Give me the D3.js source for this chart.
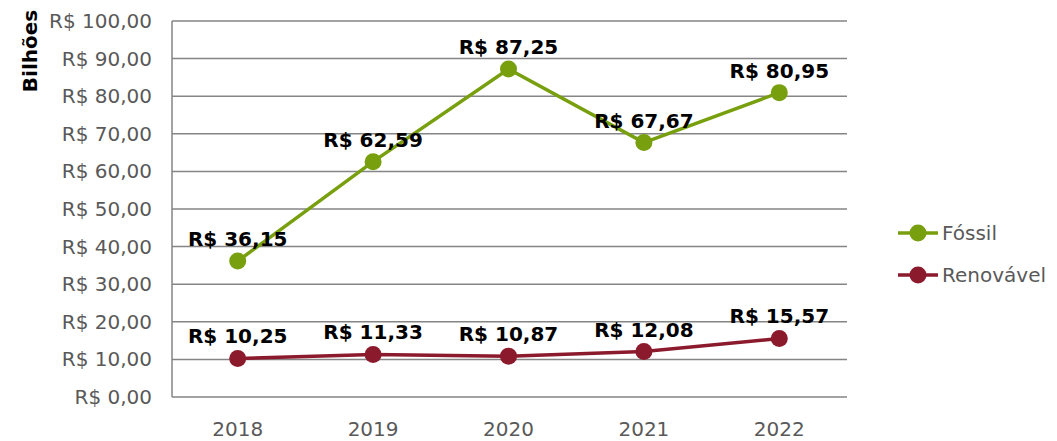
<!DOCTYPE html>
<html>
<head>
<meta charset="utf-8">
<script src="https://cdn.jsdelivr.net/npm/d3@7"></script>
<style>
  body { margin: 0; background: #fff; }
  svg text { font-family: "DejaVu Sans", sans-serif; }
</style>
</head>
<body>
<div id="chart"></div>
<script>
const years = ["2018", "2019", "2020", "2021", "2022"];
const fossil = [36.15, 62.59, 87.25, 67.67, 80.95];
const renovavel = [10.25, 11.33, 10.87, 12.08, 15.57];
const yTicks = [0, 10, 20, 30, 40, 50, 60, 70, 80, 90, 100];
const seriesNames = ["Fóssil", "Renovável"];
const colors = ["#789F0E", "#8B1A2C"];

const W = 1057, H = 441;
const plot = { left: 170, right: 847, top: 21, bottom: 397 };

const svg = d3.select("#chart").append("svg")
  .attr("width", W).attr("height", H);

const x = d3.scaleBand().domain(years).range([plot.left, plot.right]);
const y = d3.scaleLinear().domain([0, 100]).range([plot.bottom, plot.top]);

const fmt = v => "R$ " + v.toFixed(2).replace(".", ",");

// gridlines
svg.append("g").selectAll("line")
  .data(yTicks)
  .join("line")
  .attr("x1", plot.left + 2).attr("x2", plot.right)
  .attr("y1", d => y(d)).attr("y2", d => y(d))
  .attr("stroke", "#858585")
  .attr("stroke-width", 1.5);

// left axis line
svg.append("line")
  .attr("x1", plot.left + 2).attr("x2", plot.left + 2)
  .attr("y1", y(100)).attr("y2", y(0))
  .attr("stroke", "#858585").attr("stroke-width", 1.5);

// y tick labels
svg.append("g").selectAll("text")
  .data(yTicks)
  .join("text")
  .attr("x", 152)
  .attr("y", d => y(d))
  .attr("dy", "0.35em")
  .attr("text-anchor", "end")
  .attr("font-size", "20px")
  .attr("fill", "#595959")
  .text(d => fmt(d));

// x labels
svg.append("g").selectAll("text")
  .data(years)
  .join("text")
  .attr("x", d => x(d) + x.bandwidth() / 2)
  .attr("y", 429)
  .attr("dy", "0.35em")
  .attr("text-anchor", "middle")
  .attr("font-size", "20px")
  .attr("fill", "#595959")
  .text(d => d);

// y axis title
svg.append("text")
  .attr("transform", "translate(30,51) rotate(-90)")
  .attr("text-anchor", "middle")
  .attr("dy", "0.35em")
  .attr("font-size", "20px")
  .attr("font-weight", "bold")
  .attr("fill", "#000")
  .text("Bilhões");

const line = d3.line()
  .x((d, i) => x(years[i]) + x.bandwidth() / 2)
  .y(d => y(d));

[fossil, renovavel].forEach((vals, s) => {
  const g = svg.append("g");
  g.append("path")
    .datum(vals)
    .attr("d", line)
    .attr("fill", "none")
    .attr("stroke", colors[s])
    .attr("stroke-width", 3.5);
  g.selectAll("circle")
    .data(vals)
    .join("circle")
    .attr("cx", (d, i) => x(years[i]) + x.bandwidth() / 2)
    .attr("cy", d => y(d))
    .attr("r", 8.5)
    .attr("fill", colors[s]);
  g.selectAll("text")
    .data(vals)
    .join("text")
    .attr("x", (d, i) => x(years[i]) + x.bandwidth() / 2)
    .attr("y", d => y(d) - 22)
    .attr("dy", "0.35em")
    .attr("text-anchor", "middle")
    .attr("font-size", "20px")
    .attr("font-weight", "bold")
    .attr("fill", "#000")
    .text(d => fmt(d));
});

// legend
const legend = svg.append("g");
seriesNames.forEach((name, i) => {
  const ly = 233 + i * 42;
  legend.append("line")
    .attr("x1", 898).attr("x2", 938)
    .attr("y1", ly).attr("y2", ly)
    .attr("stroke", colors[i]).attr("stroke-width", 3.5);
  legend.append("circle")
    .attr("cx", 918).attr("cy", ly).attr("r", 8.5)
    .attr("fill", colors[i]);
  legend.append("text")
    .attr("x", 942).attr("y", ly)
    .attr("dy", "0.35em")
    .attr("font-size", "20px")
    .attr("fill", "#595959")
    .text(name);
});
</script>
</body>
</html>
